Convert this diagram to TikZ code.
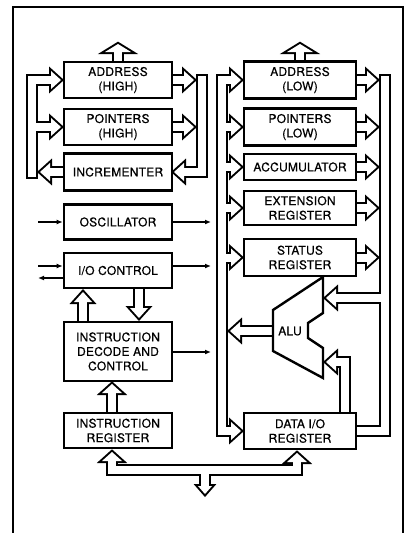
\documentclass[tikz,border=0pt]{standalone}
\usepackage{fontspec}
\setmainfont{TeX Gyre Heros}
\newfontfamily\blkfam{TeX Gyre Heros}[FakeBold=0.6, LetterSpace=2]
\usetikzlibrary{arrows.meta,calc}
\pgfdeclarelayer{busblack}
\pgfdeclarelayer{buswhite}
\pgfsetlayers{busblack,buswhite,main}
\newcommand\hbus[1]{%
 \begin{pgfonlayer}{busblack}\draw[buswall] #1;\end{pgfonlayer}%
 \begin{pgfonlayer}{buswhite}\draw[busfill] #1;\end{pgfonlayer}}
\newcommand\hhead[5]{%
 \begin{pgfonlayer}{busblack}\filldraw[headwall,shift={(#1,#2)},rotate=#3] (0,-#4) -- (#5,0) -- (0,#4) -- cycle;\end{pgfonlayer}%
 \begin{pgfonlayer}{buswhite}\fill[headfill,shift={(#1,#2)},rotate=#3] (0,-#4) -- (#5,0) -- (0,#4) -- cycle;\end{pgfonlayer}}
\newcommand\blkfont{\blkfam\fontsize{12}{14.5}\selectfont}
\begin{document}
\begin{tikzpicture}[x=1pt,y=-1pt,
 blk/.style={draw, line width=2.6pt, fill=white, inner sep=0pt, align=center, font=\blkfont},
 lcol/.style={blk, minimum width=108pt},
 rcol/.style={blk, minimum width=112pt},
 buswall/.style={line width=12pt, line join=miter, black},
 busfill/.style={line width=8pt, line join=miter, white},
 headwall/.style={line width=4pt, line join=miter, draw=black, fill=black},
 headfill/.style={fill=white},
 wall/.style={line width=2pt},
 sig/.style={line width=1.4pt, -{Latex[length=6pt,width=5pt]}},
 frm/.style={line width=1.5pt}]
\useasboundingbox (0,0) rectangle (408,533);
\draw[frm] (13,533) -- (13,7) -- (403,7) -- (403,533);
% left column
\node[lcol, minimum height=36pt] (ah) at (118,80) {ADDRESS\\(HIGH)};
\node[lcol, minimum height=36pt] (ph) at (118,127) {POINTERS\\(HIGH)};
\node[lcol, minimum height=37pt] (inc) at (118,172) {INCREMENTER};
\node[lcol, minimum height=35pt] (osc) at (118,222) {OSCILLATOR};
\node[lcol, minimum height=35pt] (ioc) at (118,270.5) {I/O CONTROL};
\node[lcol, minimum height=59pt] (idc) at (118,351.5) {INSTRUCTION\\DECODE AND\\CONTROL};
\node[lcol, minimum height=35pt] (ir) at (118,430.5) {INSTRUCTION\\REGISTER};
% right column
\node[rcol, minimum height=37pt] (al) at (300,80) {ADDRESS\\(LOW)};
\node[rcol, minimum height=37pt] (pl) at (300,127) {POINTERS\\(LOW)};
\node[rcol, minimum height=26pt] (acc) at (300,167) {ACCUMULATOR};
\node[rcol, minimum height=34pt] (ext) at (300,208) {EXTENSION\\REGISTER};
\node[rcol, minimum height=37pt] (sr) at (300,257.5) {STATUS\\REGISTER};
\node[rcol, minimum height=36pt] (dio) at (300,431) {DATA I/O\\REGISTER};
% ALU
\draw[line width=2.4pt, fill=white, line join=miter] (323,277) -- (273,310) -- (273,351) -- (323,378) -- (323,348) -- (308,338) -- (308,323) -- (323,313) -- cycle;
\node[font=\blkfont] (alu) at (290,331) {ALU};
% top outputs
\hbus{(ah.north) -- (118,52)}
\hhead{118}{52}{90}{13}{8}
\hbus{(al.north) -- (300,52)}
\hhead{300}{52}{90}{13}{8}
% left column, left bus
\hbus{(51,80) -- (32,80) -- (32,178)}
\hbus{(32,127) -- (51,127)}
\draw[wall] (26,178) -- (38,178);
\hhead{51}{80}{0}{9}{10}
\hhead{51}{127}{0}{9}{10}
\hbus{(inc.west) -- (50,172)}
\hhead{50}{172}{180}{9}{10}
% left column, right bus
\hbus{(202,75) -- (202,172) -- (184,172)}
\draw[wall] (196,75) -- (208,75);
\hhead{184}{172}{180}{9}{10}
\hbus{(ah.east) -- (184,80)}
\hhead{184}{80}{0}{9}{10}
\hbus{(ph.east) -- (184,127)}
\hhead{184}{127}{0}{9}{10}
% right column, left bus
\hbus{(231,80) -- (222,80) -- (222,431) -- (231,431)}
\hhead{231}{80}{0}{9}{10}
\hhead{231}{431}{0}{9}{10}
\foreach \yy in {127,167,208,257.5}{
 \hbus{(222,\yy) -- (231,\yy)}
 \hhead{231}{\yy}{0}{9}{10}
}
% ALU output
\hbus{(273,331) -- (240,331)}
\hhead{240}{331}{180}{9}{10}
% right column, right bus
\hbus{(385,75) -- (385,431) -- (dio.east)}
\draw[wall] (379,75) -- (391,75);
\hbus{(al.east) -- (367,80)}
\hhead{367}{80}{0}{9}{10}
\hbus{(pl.east) -- (367,127)}
\hhead{367}{127}{0}{9}{10}
\hbus{(acc.east) -- (367,167)}
\hhead{367}{167}{0}{9}{10}
\hbus{(ext.east) -- (367,208)}
\hhead{367}{208}{0}{9}{10}
\hbus{(sr.east) -- (367,257.5)}
\hhead{367}{257.5}{0}{9}{10}
% ALU inputs
\hbus{(385,298) -- (336,298)}
\hhead{336}{298}{180}{9}{10}
\hbus{(345,413) -- (345,362) -- (336,362)}
\hhead{336}{362}{180}{9}{10}
% I/O control <-> decode
\hbus{(83,322) -- (83,302)}
\hhead{83}{302}{90}{9}{10}
\hbus{(139,288) -- (139,308)}
\hhead{139}{308}{270}{9}{10}
\hbus{(112,413) -- (112,393)}
\hhead{112}{393}{90}{10}{9}
% bottom bus
\hbus{(112,461) -- (112,470) -- (297,470) -- (297,462)}
\hhead{112}{461}{90}{10}{9}
\hhead{297}{462}{90}{10}{9}
\hbus{(205,470) -- (205,486)}
\hhead{205}{486}{270}{7}{8}
% thin signal arrows
\coordinate (oscin) at (38,222);
\coordinate (oscout) at (211,222);
\coordinate (iocin) at (38,266);
\coordinate (iocout) at (38,278);
\coordinate (iocr) at (211,266);
\coordinate (idcr) at (211,352);
\draw[sig] (oscin) -- (oscin -| osc.west);
\draw[sig] (oscout -| osc.east) -- (oscout);
\draw[sig] (iocin) -- (iocin -| ioc.west);
\draw[sig] (iocout -| ioc.west) -- (iocout);
\draw[sig] (iocr -| ioc.east) -- (iocr);
\draw[sig] (idcr -| idc.east) -- (idcr);
\end{tikzpicture}
\end{document}
